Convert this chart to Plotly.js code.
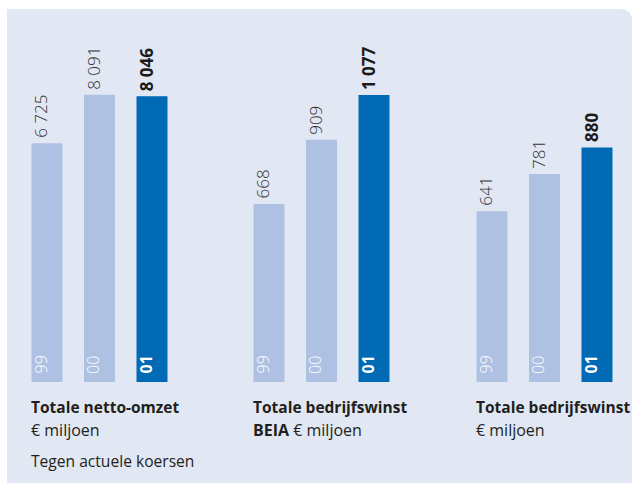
<!DOCTYPE html>
<html><head><meta charset="utf-8">
<script src="https://cdn.plot.ly/plotly-3.0.1.min.js"></script>
<style>html,body{margin:0;padding:0;background:#fff}</style>
</head><body><div id="chart" style="width:632px;height:483px"></div>
<script>
// ---- data ----
const years = ['99', '00', '01'];
const netOmzet = [6725, 8091, 8046];          // Totale netto-omzet, € miljoen
const bedrijfswinstBeia = [668, 909, 1077];   // Totale bedrijfswinst BEIA, € miljoen
const bedrijfswinst = [641, 781, 880];        // Totale bedrijfswinst, € miljoen
const groupTitles = [
  ['<b>Totale netto-omzet</b>', '€ miljoen', 'Tegen actuele koersen'],
  ['<b>Totale bedrijfswinst</b>', '<b>BEIA</b> € miljoen'],
  ['<b>Totale bedrijfswinst</b>', '€ miljoen']
];

// ---- styling ----
const W = 632, H = 483;
const LIGHT = '#afc1e3', DARK = '#006ab4', PANEL = '#e1e7f3';
const FONT = 'Open Sans, Noto Sans, sans-serif';
const px = v => v / W, py = v => 1 - v / H;

const groups = [
  {vals: netOmzet, center: 99.5, range: [0, 10507]},
  {vals: bedrijfswinstBeia, center: 321.5, range: [0, 1400]},
  {vals: bedrijfswinst, center: 544.5, range: [0, 1400]}
];
const slot = 52.5;
const fmt = n => String(n).replace(/\B(?=(\d{3})+(?!\d))/g, ' ');

const data = [];
const annotations = [];
const layout = {
  width: W, height: H,
  margin: {l: 0, r: 0, t: 0, b: 0},
  paper_bgcolor: '#ffffff', plot_bgcolor: 'rgba(0,0,0,0)',
  showlegend: false, bargap: 0.41,
  font: {family: FONT},
  shapes: [{
    type: 'path', xref: 'paper', yref: 'paper', layer: 'below',
    path: `M ${px(7)} ${py(483)} L ${px(7)} ${py(9)} L ${px(620)} ${py(9)} Q ${px(632)} ${py(9)} ${px(632)} ${py(21)} L ${px(632)} ${py(483)} Z`,
    fillcolor: PANEL, line: {width: 0}
  }]
};

groups.forEach((g, i) => {
  const xa = i === 0 ? 'x' : 'x' + (i + 1);
  const ya = i === 0 ? 'y' : 'y' + (i + 1);
  data.push({
    type: 'bar', x: years, y: g.vals, xaxis: xa, yaxis: ya,
    marker: {color: [LIGHT, LIGHT, DARK], line: {width: 0}},
    hoverinfo: 'skip'
  });
  const lo = g.center - 1.5 * slot, hi = g.center + 1.5 * slot;
  layout[i === 0 ? 'xaxis' : 'xaxis' + (i + 1)] = {
    domain: [px(lo), px(hi)], anchor: ya, visible: false,
    type: 'category', categoryorder: 'array', categoryarray: years,
    range: [-0.5, years.length - 0.5], fixedrange: true
  };
  layout[i === 0 ? 'yaxis' : 'yaxis' + (i + 1)] = {
    domain: [py(382), py(9)], anchor: xa, visible: false,
    range: g.range, fixedrange: true
  };
  years.forEach((yr, j) => {
    const last = j === years.length - 1;
    annotations.push({
      xref: xa, yref: ya, x: j, y: g.vals[j], showarrow: false,
      text: last ? '<b>' + fmt(g.vals[j]) + '</b>' : fmt(g.vals[j]),
      textangle: -90, xanchor: 'center', yanchor: 'bottom', yshift: 3, xshift: -6,
      font: {family: FONT, size: 17, color: last ? '#1a1a1a' : '#333333', weight: last ? 700 : 300}
    });
    annotations.push({
      xref: xa, yref: ya, x: j, y: 0, showarrow: false,
      text: last ? '<b>' + yr + '</b>' : yr,
      textangle: -90, xanchor: 'center', yanchor: 'bottom', yshift: 6, xshift: -6.5,
      font: {family: FONT, size: 16, color: '#ffffff', weight: last ? 700 : 300}
    });
  });
  const tx = [31, 253, 476][i];
  const lineY = [407, 430, 461];
  groupTitles[i].forEach((t, k) => {
    annotations.push({
      xref: 'paper', yref: 'paper', x: px(tx - 2), y: py(lineY[k]),
      xanchor: 'left', yanchor: 'middle', showarrow: false, text: t,
      font: {family: FONT, size: k === 0 ? 15.5 : (k === 2 ? 15.6 : 16), color: '#231f20'}
    });
  });
});
layout.annotations = annotations;

Plotly.newPlot('chart', data, layout, {displayModeBar: false, staticPlot: true});
</script></body></html>
